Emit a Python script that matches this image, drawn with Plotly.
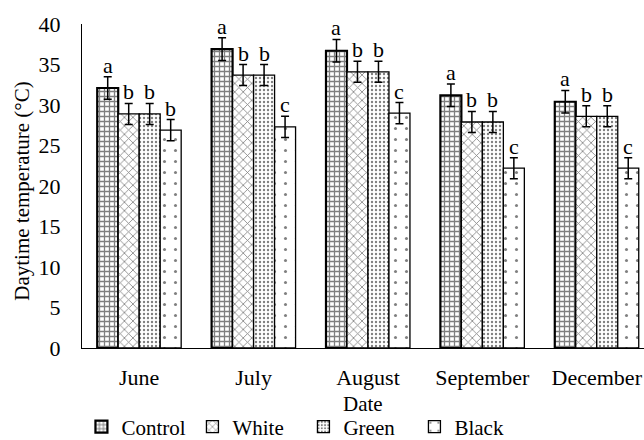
import plotly.graph_objects as go

months = ["June", "July", "August", "September", "December"]
series_names = ["Control", "White", "Green", "Black"]
control = [32.1, 36.9, 36.7, 31.2, 30.4]
white = [28.9, 33.7, 34.1, 27.9, 28.6]
green = [28.9, 33.7, 34.1, 27.9, 28.6]
black = [26.9, 27.3, 29.0, 22.2, 22.2]
control_err = [1.4, 1.4, 1.4, 1.4, 1.4]
white_err = [1.3, 1.3, 1.3, 1.3, 1.3]
green_err = [1.3, 1.3, 1.3, 1.3, 1.3]
black_err = [1.3, 1.3, 1.3, 1.3, 1.3]
control_letters = ["a", "a", "a", "a", "a"]
white_letters = ["b", "b", "b", "b", "b"]
green_letters = ["b", "b", "b", "b", "b"]
black_letters = ["b", "c", "c", "c", "c"]
y_ticks = [0, 5, 10, 15, 20, 25, 30, 35, 40]

FONT = "Liberation Serif, Times New Roman, serif"
FS = 22
BARGAP = 0.266

values = [control, white, green, black]
errors = [control_err, white_err, green_err, black_err]
letters = [control_letters, white_letters, green_letters, black_letters]
patterns = [
    dict(shape="+", size=5, solidity=0.45, fgcolor="black", bgcolor="white"),
    dict(shape="x", size=6, solidity=0.25, fgcolor="black", bgcolor="white"),
    dict(shape=".", size=4, solidity=0.28, fgcolor="black", bgcolor="white"),
    dict(shape=".", size=11, solidity=0.06, fgcolor="black", bgcolor="white"),
]
outline = [2.2, 1.3, 1.3, 1.3]

fig = go.Figure()
for k, name in enumerate(series_names):
    fig.add_trace(go.Bar(
        name=name,
        x=months,
        y=values[k],
        marker=dict(color="white", pattern=patterns[k],
                    line=dict(color="black", width=outline[k])),
        error_y=dict(type="data", array=errors[k], color="black",
                     thickness=1.5, width=4),
    ))

# significance letters above each error bar
bar_w = (1 - BARGAP) / len(series_names)
annotations = []
for k in range(len(series_names)):
    offset = (k - (len(series_names) - 1) / 2) * bar_w
    for i in range(len(months)):
        annotations.append(dict(
            x=i + offset, y=values[k][i] + errors[k][i],
            xref="x", yref="y", text=letters[k][i], showarrow=False,
            yanchor="bottom", yshift=-3,
            font=dict(family=FONT, size=FS, color="black"),
        ))

annotations.append(dict(
    x=0.5, y=-0.173, xref="paper", yref="paper", text="Date",
    showarrow=False, xanchor="center", yanchor="middle",
    font=dict(family=FONT, size=FS - 1, color="black"),
))
annotations.append(dict(
    x=-0.107, y=0.485, xref="paper", yref="paper",
    text="Daytime temperature (°C)", textangle=-90,
    showarrow=False, xanchor="center", yanchor="middle",
    font=dict(family=FONT, size=FS - 1, color="black"),
))

fig.update_layout(
    width=644, height=440,
    margin=dict(l=82, r=0, t=24, b=92, autoexpand=False),
    paper_bgcolor="white", plot_bgcolor="white",
    barmode="group", bargap=BARGAP, bargroupgap=0,
    font=dict(family=FONT, size=FS, color="black"),
    showlegend=True,
    legend=dict(orientation="h", x=-0.001, xanchor="left", y=-0.244,
                yanchor="middle", entrywidth=66, entrywidthmode="pixels",
                itemwidth=30, tracegroupgap=0,
                font=dict(family=FONT, size=FS - 1, color="black"),
                bgcolor="rgba(0,0,0,0)"),
    annotations=annotations,
)
fig.update_xaxes(
    range=[-0.5, 4.413], showline=True, linecolor="black", linewidth=1,
    showgrid=False, ticks="", ticklabelstandoff=10, automargin=False,
    tickfont=dict(family=FONT, size=FS, color="black"),
)
fig.update_yaxes(
    range=[0, 40], tickvals=y_ticks, showline=True, linecolor="black",
    linewidth=1, showgrid=False, zeroline=False, ticks="",
    ticklabelstandoff=16, automargin=False,
    tickfont=dict(family=FONT, size=FS, color="black"),
)

fig.write_html("out.html")
